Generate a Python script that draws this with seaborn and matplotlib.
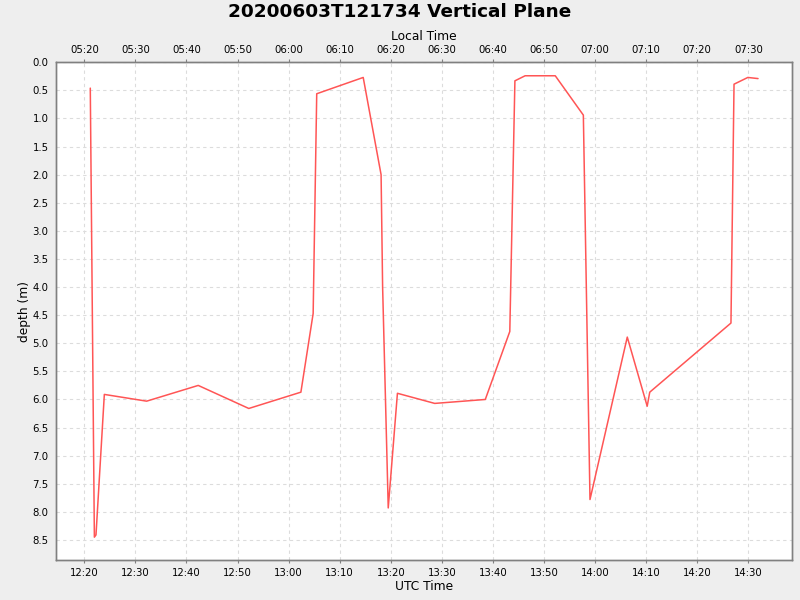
import pandas as pd
import matplotlib
matplotlib.use('Agg')
import matplotlib.pyplot as plt
import matplotlib.dates as mdates
import seaborn as sns

# dive profile (UTC times, depth in metres)
utc_times = ['12:21:10', '12:21:58', '12:22:17', '12:23:55', '12:32:12', '12:42:18',
             '12:52:12', '13:02:24', '13:04:48', '13:05:30', '13:14:36', '13:18:06',
             '13:18:24', '13:19:30', '13:21:18', '13:28:36', '13:38:30', '13:43:18',
             '13:44:18', '13:46:18', '13:52:12', '13:57:42', '13:59:00', '14:06:18',
             '14:10:12', '14:10:42', '14:26:36', '14:27:12', '14:29:54', '14:31:54']
depths = [0.46, 8.45, 8.41, 5.91, 6.03, 5.75,
          6.16, 5.87, 4.47, 0.56, 0.27, 2.00,
          4.00, 7.93, 5.89, 6.07, 6.00, 4.79,
          0.33, 0.24, 0.24, 0.94, 7.78, 4.89,
          6.12, 5.87, 4.64, 0.39, 0.27, 0.29]
day = '2020-06-03'
local_offset_hours = -7
x_start, x_end = '12:14:31', '14:38:33'
depth_max = 8.856
depth_ticks = [i * 0.5 for i in range(18)]

df = pd.DataFrame({'time': pd.to_datetime([day + ' ' + t for t in utc_times]),
                   'depth': depths})

sns.set_style('white')
plt.rcParams['font.family'] = ['DejaVu Sans']
plt.rcParams['text.color'] = 'black'
plt.rcParams['axes.labelcolor'] = 'black'
plt.rcParams['xtick.labelcolor'] = 'black'
plt.rcParams['ytick.labelcolor'] = 'black'

fig = plt.figure(figsize=(8, 6), dpi=100, facecolor='#eeeeee')
ax = fig.add_axes([0.0704, 0.0667, 0.9196, 0.8295])
ax.set_facecolor('white')

sns.lineplot(data=df, x='time', y='depth', ax=ax, color='#ff5555',
             linewidth=1.1, estimator=None, sort=False)

t0 = pd.Timestamp(day + ' ' + x_start)
t1 = pd.Timestamp(day + ' ' + x_end)
ax.set_xlim(t0, t1)
ax.set_ylim(depth_max, 0)
ax.set_yticks(depth_ticks)
ax.yaxis.set_major_formatter(matplotlib.ticker.FormatStrFormatter('%.1f'))
ax.xaxis.set_major_locator(mdates.MinuteLocator(byminute=range(0, 60, 10)))
ax.xaxis.set_major_formatter(mdates.DateFormatter('%H:%M'))

grid_kw = dict(color='#dcdcdc', linestyle=(0, (3, 3)), linewidth=0.8)
ax.grid(True, **grid_kw)

# top axis in local time
ax2 = ax.twiny()
off = pd.Timedelta(hours=local_offset_hours)
ax2.set_xlim(t0 + off, t1 + off)
ax2.xaxis.set_major_locator(mdates.MinuteLocator(byminute=range(0, 60, 10)))
ax2.xaxis.set_major_formatter(mdates.DateFormatter('%H:%M'))

for a in (ax, ax2):
    for s in a.spines.values():
        s.set_color('#808080')
        s.set_linewidth(1.0)
    a.tick_params(axis='both', labelsize=7.3, length=2.5, width=0.8,
                  color='#808080', pad=3, direction='out')

ax.set_xlabel('UTC Time', fontsize=8.8, labelpad=2)
ax.set_ylabel('depth (m)', fontsize=8.8, labelpad=1)
ax2.set_xlabel('Local Time', fontsize=8.8, labelpad=3)

fig.suptitle('20200603T121734 Vertical Plane', fontsize=13.3, fontweight='bold',
             color='black', y=0.995)

fig.savefig('out.png', dpi=100, facecolor=fig.get_facecolor())
